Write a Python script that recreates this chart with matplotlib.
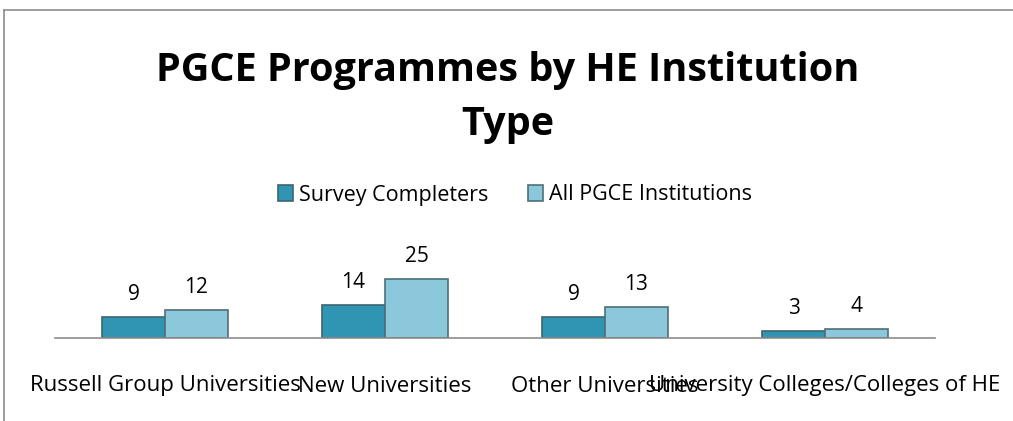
import matplotlib.pyplot as plt
import numpy as np
from matplotlib.lines import Line2D

# Данные
categories = ["Russell Group Universities", "New Universities",
              "Other Universities", "University Colleges/Colleges of HE"]
survey_completers = [9, 14, 9, 3]
all_pgce = [12, 25, 13, 4]
series_names = ["Survey Completers", "All PGCE Institutions"]

plt.rcParams['font.family'] = ['Open Sans', 'DejaVu Sans']

fig = plt.figure(figsize=(10.13, 4.21), dpi=100)
# оси: x 55..935 px, базовая линия y=338 px
ax = fig.add_axes([55 / 1013, (421 - 338) / 421, 880 / 1013, 160 / 421])

x = np.arange(len(categories))
w = 0.286
c1 = '#2f95b2'
c2 = '#8cc8dc'
b1 = ax.bar(x - w / 2, survey_completers, w, color=c1, edgecolor='#3f6470', linewidth=1.2,
            label=series_names[0])
b2 = ax.bar(x + w / 2, all_pgce, w, color=c2, edgecolor='#4f6f78', linewidth=1.2,
            label=series_names[1])

for bars in (b1, b2):
    for b in bars:
        ax.annotate(str(int(b.get_height())), (b.get_x() + b.get_width() / 2, b.get_height()),
                    xytext=(0, 16), textcoords='offset points', ha='center', va='center',
                    fontsize=15)

ax.set_xlim(-0.5, len(categories) - 0.5)
ax.set_ylim(0, 160 / 2.37)
ax.set_xticks(x)
ax.set_xticklabels(categories, fontsize=16)
ax.tick_params(axis='x', length=0, pad=27)
ax.set_yticks([])
for s in ['top', 'right', 'left']:
    ax.spines[s].set_visible(False)
ax.spines['bottom'].set_color('#8c8c8c')
ax.spines['bottom'].set_linewidth(1.2)

# Заголовок
fig.text(508 / 1013, 1 - 70 / 421, "PGCE Programmes by HE Institution",
         ha='center', va='center', fontsize=28.5, fontweight='bold')
fig.text(508 / 1013, 1 - 125 / 421, "Type",
         ha='center', va='center', fontsize=28.5, fontweight='bold')

# Легенда
fig.legend(handles=[b1, b2], loc='center', bbox_to_anchor=(515 / 1013, 1 - 195 / 421),
           ncol=2, frameon=False, fontsize=15.5, handlelength=0.7, handleheight=0.7,
           handletextpad=0.3, columnspacing=1.8)

# рамка
fig.add_artist(Line2D([4 / 1013, 4 / 1013], [0, 1 - 9.5 / 421], color='#8c8c8c', lw=1.2))
fig.add_artist(Line2D([4 / 1013, 1], [1 - 9.5 / 421, 1 - 9.5 / 421], color='#8c8c8c', lw=1.2))

fig.savefig('out.png', dpi=100)
